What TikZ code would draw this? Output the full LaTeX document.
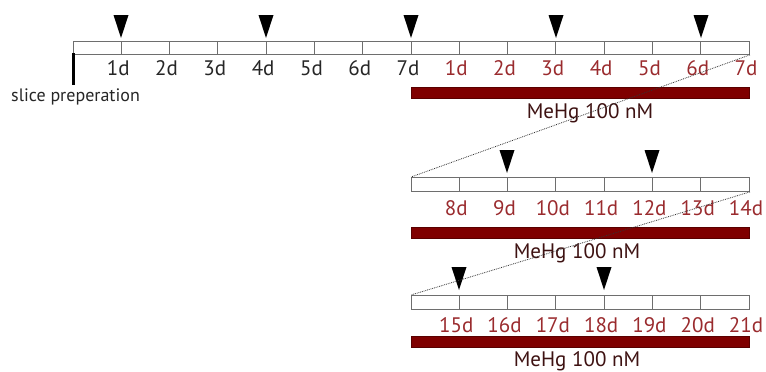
\documentclass[tikz,border=0pt]{standalone}
\usepackage{fontspec}
\setmainfont{PT Sans}
\usepackage{tikz}
\usetikzlibrary{calc}
\definecolor{cellgray}{HTML}{6E6E6E}
\definecolor{dayred}{HTML}{9A2B2E}
\definecolor{barred}{HTML}{7F0000}
\definecolor{labelred}{HTML}{3E1212}
\newcommand{\daysize}{\fontsize{21}{21}\selectfont}
\newcommand{\dosesize}{\fontsize{21}{21}\selectfont}
\newcommand{\cell}{48.286}
% sampling day: filled triangle, x, top, tip
\newcommand{\marker}[3]{\fill (#1-7.5,#2) -- (#1+7.5,#2) -- (#1,#3) -- cycle;}

\begin{document}
\begin{tikzpicture}[x=1pt,y=-1pt,
  week/.style={draw=cellgray, line width=0.9pt, minimum height=13pt, inner sep=0pt, anchor=north west},
  tick/.style={draw=cellgray, line width=0.9pt},
  dose/.style={fill=barred, draw=barred!70!black, line width=0.4pt, minimum width=338pt, minimum height=11pt, inner sep=0pt, anchor=north west},
  day/.style={font=\daysize, inner sep=0pt, anchor=base},
  doselabel/.style={font=\dosesize, text=labelred, inner sep=0pt, anchor=base},
  link/.style={densely dotted, line width=0.8pt, black!80}]
\useasboundingbox (0,0) rectangle (766,372);
%week 1 and 2
\node[week, minimum width=676pt] (w1) at (73,41) {};
\foreach \i in {1,...,13}
  \draw[tick] (73+\i*\cell,41) -- (73+\i*\cell,54);
\foreach \d in {1,...,7}
  \node[day, text=black!85] (a\d) at (70+\d*\cell,75) {\d d};
\foreach \d in {1,...,7}
  \node[day, text=dayred] (b\d) at (408+\d*\cell,75) {\d d};
\marker{121}{15}{38}
\marker{266}{15}{38}
\marker{411}{15}{38}
\marker{556}{15}{38}
\marker{701}{15}{38}
\draw[line width=3pt] (73,53) -- (73,85);
\node[inner sep=0pt, anchor=base west, font=\fontsize{18}{18}\selectfont, text=black!85] (slice) at (11,101) {slice preperation};
\node[dose] (m1) at (411,87) {};
\node[doselabel] (l1) at (590,118) {MeHg 100 nM};
%week 3
\node[week, minimum width=338pt, minimum height=14pt] (w2) at (411,177) {};
\foreach \i in {1,...,6}
  \draw[tick] (411+\i*\cell,177) -- (411+\i*\cell,191);
\foreach \d in {8,...,14}
  \node[day, text=dayred] (c\d) at (408+\d*\cell-7*\cell,215) {\d d};
\marker{507}{150}{173}
\marker{652}{150}{173}
\node[dose] (m2) at (411,227) {};
\node[doselabel] (l2) at (577,258) {MeHg 100 nM};
%week 4
\node[week, minimum width=338pt, minimum height=14pt] (w3) at (411,295) {};
\foreach \i in {1,...,6}
  \draw[tick] (411+\i*\cell,295) -- (411+\i*\cell,309);
\foreach \d in {15,...,21}
  \node[day, text=dayred] (e\d) at (408+\d*\cell-14*\cell,332) {\d d};
\marker{459}{267}{290}
\marker{604}{267}{290}
\node[dose] (m3) at (411,336) {};
\node[doselabel] (l3) at (577,366) {MeHg 100 nM};
%zoom lines
\draw[link] (w1.south east) -- (w2.north west);
\draw[link] (w2.south east) -- (w3.north west);
\end{tikzpicture}
\end{document}
